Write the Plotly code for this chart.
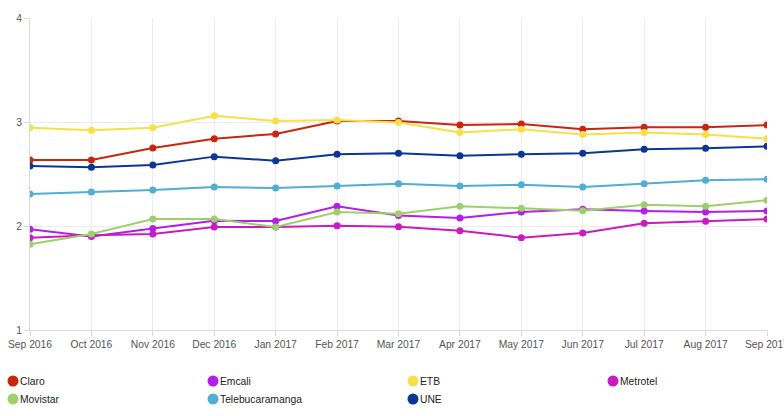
import plotly.graph_objects as go

months = ["Sep 2016", "Oct 2016", "Nov 2016", "Dec 2016", "Jan 2017", "Feb 2017",
          "Mar 2017", "Apr 2017", "May 2017", "Jun 2017", "Jul 2017", "Aug 2017", "Sep 2017"]

claro = [2.635, 2.635, 2.75, 2.84, 2.885, 3.01, 3.01, 2.97, 2.98, 2.93, 2.95, 2.95, 2.97]
emcali = [1.968, 1.90, 1.975, 2.05, 2.048, 2.19, 2.10, 2.077, 2.135, 2.16, 2.144, 2.135, 2.144]
etb = [2.945, 2.92, 2.945, 3.06, 3.01, 3.02, 2.995, 2.90, 2.93, 2.88, 2.90, 2.88, 2.84]
metrotel = [1.888, 1.91, 1.923, 1.99, 1.99, 2.003, 1.993, 1.955, 1.888, 1.933, 2.026, 2.045, 2.067]
movistar = [1.824, 1.923, 2.067, 2.067, 1.99, 2.135, 2.118, 2.19, 2.17, 2.147, 2.205, 2.19, 2.247]
telebucaramanga = [2.308, 2.327, 2.346, 2.375, 2.365, 2.385, 2.407, 2.385, 2.397, 2.375, 2.407, 2.44, 2.45]
une = [2.577, 2.565, 2.587, 2.667, 2.628, 2.69, 2.70, 2.676, 2.69, 2.70, 2.737, 2.747, 2.766]

series_names = ["Claro", "Emcali", "ETB", "Metrotel", "Movistar", "Telebucaramanga", "UNE"]
series_values = [claro, emcali, etb, metrotel, movistar, telebucaramanga, une]
series_colors = ["#c8260e", "#b31fe8", "#f5e04a", "#c81cc2", "#9dd06c", "#50aed0", "#0c3696"]
y_ticks = [1, 2, 3, 4]

FONT = "Liberation Sans, Arial, Helvetica, sans-serif"
W, H = 784, 416
ML, MR, MT, MB = 30, 17, 18, 86
PW, PH = W - ML - MR, H - MT - MB

fig = go.Figure()
for name, vals, col in zip(series_names, series_values, series_colors):
    fig.add_trace(go.Scatter(
        x=list(range(len(months))), y=vals, name=name, mode="lines+markers",
        line=dict(color=col, width=2), marker=dict(color=col, size=7),
        showlegend=False))

# Legend drawn as a 4-column grid (circle symbol + label), built from the series lists
def px_to_paper_x(px):
    return (px - ML) / PW

def py_to_paper_y(py):
    return (H - MB - py) / PH

shapes, annotations = [], []
for i, (name, col) in enumerate(zip(series_names, series_colors)):
    colx = 13 + 200 * (i % 4)
    rowy = 381 + 18 * (i // 4)
    shapes.append(dict(type="circle", xref="paper", yref="paper",
                       xsizemode="pixel", ysizemode="pixel",
                       xanchor=px_to_paper_x(colx), yanchor=py_to_paper_y(rowy),
                       x0=-5.5, x1=5.5, y0=-5.5, y1=5.5,
                       fillcolor=col, line=dict(width=0)))
    annotations.append(dict(x=px_to_paper_x(colx + 5), y=py_to_paper_y(rowy),
                            xref="paper", yref="paper", xanchor="left", yanchor="middle",
                            text=name, showarrow=False,
                            font=dict(family=FONT, size=10.3, color="#222")))

axis_common = dict(showgrid=True, gridcolor="#ececf0", showline=True, linecolor="#d9d9d9",
                   ticks="outside", ticklen=5, tickcolor="#d9d9d9", zeroline=False,
                   tickfont=dict(family=FONT, size=10.3, color="#555"))
fig.update_layout(
    width=W, height=H,
    margin=dict(l=ML, r=MR, t=MT, b=MB, autoexpand=False),
    paper_bgcolor="white", plot_bgcolor="white",
    font=dict(family=FONT, size=11, color="#333"),
    shapes=shapes, annotations=annotations,
    xaxis=dict(tickmode="array", tickvals=list(range(len(months))), ticktext=months,
               range=[0, len(months) - 1], tickangle=0, ticklabeloverflow="allow",
               **axis_common),
    yaxis=dict(range=[1, 4], tickvals=y_ticks, **axis_common),
)

fig.write_html("out.html")
